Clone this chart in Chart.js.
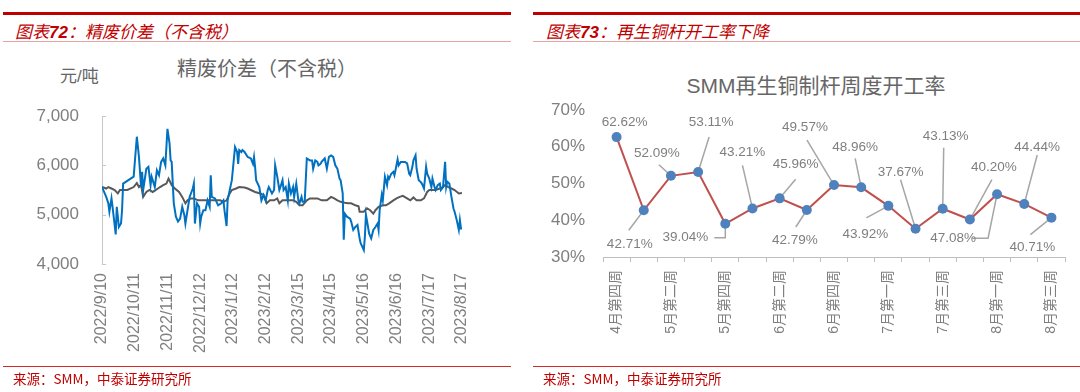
<!DOCTYPE html>
<html>
<head>
<meta charset="utf-8">
<script src="https://cdn.jsdelivr.net/npm/chart.js@4.4.0/dist/chart.umd.min.js"></script>
<style>
  body { margin: 0; width: 1080px; height: 392px; background: #fff; position: relative; overflow: hidden;
         font-family: "Liberation Sans", "Noto Sans CJK SC", sans-serif; }
  .abs { position: absolute; white-space: nowrap; }
  .thick { position: absolute; top: 12px; border-top: 3px solid #c00000; }
  .thin  { position: absolute; top: 41px; border-top: 1px solid #e6a3a3; }
  .foot  { position: absolute; top: 366px; border-top: 1px solid #d42a2a; }
  .fig   { top: 18px; font-size: 17px; font-style: italic; color: #c00000; font-family: "Noto Sans CJK SC", sans-serif; }
  .fig b { font-family: "Liberation Sans", sans-serif; font-weight: bold; }
  .src   { top: 368px; font-size: 13.5px; color: #c00000; font-family: "Noto Sans CJK SC", sans-serif; }
  .ctitle { font-size: 20px; color: #666; transform: translateX(-50%); }
  canvas { position: absolute; top: 0; }
</style>
</head>
<body>
<div class="thick" style="left:3px;width:508px"></div>
<div class="thick" style="left:533px;width:547px"></div>
<div class="abs fig" style="left:15px">图表<b>72</b>：精废价差（不含税）</div>
<div class="abs fig" style="left:546px">图表<b>73</b>：再生铜杆开工率下降</div>
<div class="thin" style="left:3px;width:508px"></div>
<div class="thin" style="left:533px;width:547px"></div>

<div class="abs ctitle" style="left:267px;top:53px">精废价差（不含税）</div>
<div class="abs" style="left:60px;top:62px;font-size:17px;color:#666">元/吨</div>
<div class="abs ctitle" style="left:816px;top:69px;font-size:21px">SMM再生铜制杆周度开工率</div>

<canvas id="spreadChart" width="520" height="392" style="left:0"></canvas>
<canvas id="rateChart" width="550" height="392" style="left:530px"></canvas>

<div class="foot" style="left:3px;width:508px"></div>
<div class="foot" style="left:533px;width:547px"></div>
<div class="abs src" style="left:13px">来源：SMM，中泰证券研究所</div>
<div class="abs src" style="left:543px">来源：SMM，中泰证券研究所</div>

<script>
// ===== dados: 精废价差 (dias desde 2022/9/10) =====
const startDate = '2022/9/10';
const dateTicks = ['2022/9/10', '2022/10/11', '2022/11/11', '2022/12/12', '2023/1/12', '2023/2/12',
                   '2023/3/15', '2023/4/15', '2023/5/16', '2023/6/16', '2023/7/17', '2023/8/17'];

const blueDays = [0,4,6,7,9,10,13,14,15,16,18,19,20,30,33,35,37,38,39,42,44,46,47,48,50,52,54,56,58,60,
  62,64,65,66,68,70,72,74,76,78,79,81,83,86,87,88,90,92,93,94,96,98,100,102,103,104,107,110,113,115,
  116,118,119,121,123,126,128,129,130,132,133,135,138,141,143,144,145,146,149,151,153,155,157,158,161,163,164,166,168,169,
  171,172,174,176,177,179,181,182,184,186,187,189,190,192,194,197,199,200,202,204,205,207,208,211,
  213,215,217,219,221,223,225,226,228,229,230,232,235,236,238,240,242,244,245,248,249,250,252,253,255,257,
  259,261,262,263,265,266,268,270,271,272,274,276,277,278,280,281,283,285,287,289,291,292,294,295,297,298,
  300,302,303,305,307,308,310,312,313,315,316,318,320,321,323,325,326,327,329,331,333,334,336,338,339,340,341];
const blueValues = [5560,5360,5230,5060,5330,5160,4600,5160,4960,4750,4820,5090,5630,5770,6580,6170,5560,5870,5500,5930,5970,5600,5770,5700,5560,5900,5800,6070,6140,6000,
  6740,6440,6100,6070,5230,4960,4860,4920,5160,4990,4820,5090,5360,5530,5630,4820,5230,5160,4820,4960,5090,5090,5290,5160,5800,5360,5330,5190,5230,5290,
  5090,4770,5290,5500,5700,6370,6270,6030,6310,6270,6310,6270,6170,6140,6030,6170,5970,5700,5560,5290,5400,5290,5500,5560,5430,5500,6000,5770,5500,5560,
  5700,5500,5560,5290,5630,5430,5560,5360,5630,5290,5230,5360,5260,5260,6140,6100,6100,5930,6100,6070,6000,6030,6070,6140,
  5930,6170,6200,6170,6000,5930,5730,5700,5430,4490,5020,4960,4920,4860,4690,4750,4790,4520,4420,4280,4550,5000,4750,4620,4520,4690,
  4750,4820,4690,5090,5400,5290,5770,5600,5770,5730,5830,5870,5800,5900,6120,6000,6070,6070,6070,6040,5830,5800,5970,6100,6200,5930,
  5700,5660,5630,5530,5970,5830,5730,5560,5730,5560,5500,5600,5630,5500,5560,6070,5560,5670,5630,5360,5120,5060,4890,4690,4890,4720,4720];

const greyDays = [0,4,6,9,12,15,17,19,24,30,33,35,37,39,42,45,48,51,55,58,61,63,66,69,73,76,79,81,84,87,
  91,96,100,105,112,115,118,121,123,127,130,135,138,141,145,150,153,156,159,163,166,168,171,176,181,184,187,190,194,197,
  204,208,213,217,220,223,226,230,233,236,240,243,244,248,251,254,257,259,262,266,269,272,276,279,282,285,289,292,295,298,
  302,305,308,310,313,316,320,323,325,328,331,334,338,341];
const greyValues = [5560,5530,5560,5530,5500,5430,5500,5500,5500,5560,5640,5560,5600,5360,5460,5500,5460,5500,5560,5600,5630,5730,5600,5530,5460,5360,5230,5290,5330,5330,
  5290,5290,5290,5290,5290,5260,5290,5430,5500,5530,5560,5550,5530,5500,5460,5430,5400,5230,5290,5290,5330,5230,5290,5290,5290,5260,5190,5190,5290,5330,
  5330,5290,5290,5360,5330,5290,5260,5240,5230,5230,5190,5170,5060,5060,5130,5090,5020,5090,5160,5190,5190,5230,5290,5330,5360,5380,5330,5290,5350,5290,
  5290,5330,5460,5500,5500,5500,5530,5560,5600,5560,5530,5500,5430,5440];

const yTicksSpread = [4000, 5000, 6000, 7000];

// ===== dados: SMM再生铜制杆周度开工率 =====
const weekLabels = ['4月第四周', '5月第一周', '5月第二周', '5月第三周', '5月第四周', '6月第一周', '6月第二周', '6月第三周',
                    '6月第四周', '6月第五周', '7月第一周', '7月第二周', '7月第三周', '7月第四周', '8月第一周', '8月第二周', '8月第三周'];
const rateValues = [62.62, 42.71, 52.09, 53.11, 39.04, 43.21, 45.96, 42.79, 49.57, 48.96, 43.92, 37.67, 43.13, 40.20, 47.08, 44.44, 40.71];
const yTicksRate = [30, 40, 50, 60, 70];

// posição dos rótulos (px relativos ao ponto) e linhas-guia
const labelOffsets = [[8,-15],[-14,34],[-14,-23],[13,-50],[-40,14],[-10,-56],[16,-34],[-12,30],[-29,-58],
                      [-6,-40],[-23,28],[-15,-57],[3,-72],[24,-52],[-44,44],[13,-57],[-19,30]];
const leaderPaths = [[],[[-15,20]],[[-12,-11]],[[11,-35]],[[-11,14],[0,14]],[[-10,-43]],[[16,-19]],[[-11,17]],[[-27,-45]],
                     [[-6,-29]],[[-22,12]],[[-15,-49]],[[1,-61]],[[22,-40]],[[-25,44],[-9,44]],[[13,-49]],[[-21,17]]];

const GREY = '#7f7f7f';
const FONT = '"Liberation Sans", "Noto Sans CJK SC", sans-serif';

const parseDate = (s) => { const [y, m, d] = s.split('/').map(Number); return Date.UTC(y, m - 1, d); };
const dayOf = (s) => Math.round((parseDate(s) - parseDate(startDate)) / 86400000);
const tickDays = dateTicks.map(dayOf);

// tracinhos do eixo y voltados para dentro
const innerTicks = {
  id: 'innerTicks',
  afterDraw(chart) {
    const { ctx } = chart;
    const y = chart.scales.y;
    ctx.save();
    ctx.strokeStyle = '#c8c8c8';
    ctx.lineWidth = 1;
    y.ticks.forEach(t => {
      const py = Math.round(y.getPixelForValue(t.value)) + 0.5;
      ctx.beginPath();
      ctx.moveTo(y.right, py);
      ctx.lineTo(y.right + 4, py);
      ctx.stroke();
    });
    ctx.restore();
  }
};

// ===== gráfico esquerdo =====
new Chart(document.getElementById('spreadChart'), {
  type: 'line',
  data: {
    datasets: [
      { data: blueDays.map((d, i) => ({ x: d, y: blueValues[i] })), borderColor: '#0070c0', borderWidth: 2,
        pointRadius: 0, tension: 0 },
      { data: greyDays.map((d, i) => ({ x: d, y: greyValues[i] })), borderColor: '#595959', borderWidth: 2,
        pointRadius: 0, tension: 0 }
    ]
  },
  options: {
    responsive: false, animation: false, events: [],
    layout: { padding: { top: 116, right: 58, bottom: 28, left: 0 } },
    plugins: { legend: { display: false }, tooltip: { enabled: false } },
    scales: {
      x: {
        type: 'linear', min: tickDays[0], max: tickDays[tickDays.length - 1],
        afterBuildTicks: (s) => { s.ticks = tickDays.map(v => ({ value: v })); },
        afterFit: (s) => { s.height = 100; },
        grid: { display: false, drawTicks: false },
        border: { display: false },
        ticks: { autoSkip: false, minRotation: 90, maxRotation: 90, padding: 9, color: GREY,
                 font: { family: FONT, size: 16 }, callback: (v, i) => dateTicks[i] }
      },
      y: {
        min: yTicksSpread[0], max: yTicksSpread[yTicksSpread.length - 1],
        afterBuildTicks: (s) => { s.ticks = yTicksSpread.map(v => ({ value: v })); },
        afterFit: (s) => { s.width = 102; },
        grid: { display: false, drawTicks: false },
        border: { color: '#c8c8c8', width: 1 },
        ticks: { padding: 23, color: GREY, font: { family: FONT, size: 17 },
                 callback: (v) => v.toLocaleString('en-US') }
      }
    }
  },
  plugins: [innerTicks]
});

// ===== rótulos com linha-guia (plugin próprio) =====
const pointLabels = {
  id: 'pointLabels',
  beforeDatasetsDraw(chart) {
    const { ctx } = chart;
    const pts = chart.getDatasetMeta(0).data;
    ctx.save();
    ctx.strokeStyle = '#a6a6a6';
    ctx.lineWidth = 1.5;
    pts.forEach((p, i) => {
      const path = leaderPaths[i];
      if (!path.length) return;
      ctx.beginPath();
      ctx.moveTo(p.x + path[0][0], p.y + path[0][1]);
      path.slice(1).forEach(([dx, dy]) => ctx.lineTo(p.x + dx, p.y + dy));
      ctx.lineTo(p.x, p.y);
      ctx.stroke();
    });
    ctx.restore();
  },
  afterDatasetsDraw(chart) {
    const { ctx } = chart;
    const pts = chart.getDatasetMeta(0).data;
    ctx.save();
    ctx.fillStyle = GREY;
    ctx.font = '13.5px ' + FONT;
    ctx.textAlign = 'center';
    ctx.textBaseline = 'middle';
    pts.forEach((p, i) => {
      const [dx, dy] = labelOffsets[i];
      ctx.fillText(rateValues[i].toFixed(2) + '%', p.x + dx, p.y + dy);
    });
    ctx.restore();
  }
};

// ===== gráfico direito =====
new Chart(document.getElementById('rateChart'), {
  type: 'line',
  data: {
    labels: weekLabels,
    datasets: [{
      data: rateValues, borderColor: '#c0504d', borderWidth: 2, tension: 0,
      pointRadius: 5, pointBackgroundColor: '#4f81bd', pointBorderWidth: 0
    }]
  },
  options: {
    responsive: false, animation: false, events: [],
    layout: { padding: { top: 110, right: 15, bottom: 35, left: 0 } },
    plugins: { legend: { display: false }, tooltip: { enabled: false } },
    scales: {
      x: {
        offset: true,
        afterFit: (s) => { s.height = 100; },
        grid: { offset: true, drawOnChartArea: false, tickLength: 5, color: '#bfbfbf' },
        border: { color: '#bfbfbf', width: 1 },
        ticks: { autoSkip: false, minRotation: 90, maxRotation: 90, padding: 8, color: GREY,
                 font: { family: FONT, size: 14 },
                 callback: (v, i) => (i % 2 === 0 ? weekLabels[i] : '') }
      },
      y: {
        min: yTicksRate[0], max: yTicksRate[yTicksRate.length - 1],
        afterBuildTicks: (s) => { s.ticks = yTicksRate.map(v => ({ value: v })); },
        afterFit: (s) => { s.width = 73; },
        grid: { display: false, drawTicks: false },
        border: { display: false },
        ticks: { padding: 18, color: GREY, font: { family: FONT, size: 17 }, callback: (v) => v + '%' }
      }
    }
  },
  plugins: [pointLabels]
});
</script>
</body>
</html>
